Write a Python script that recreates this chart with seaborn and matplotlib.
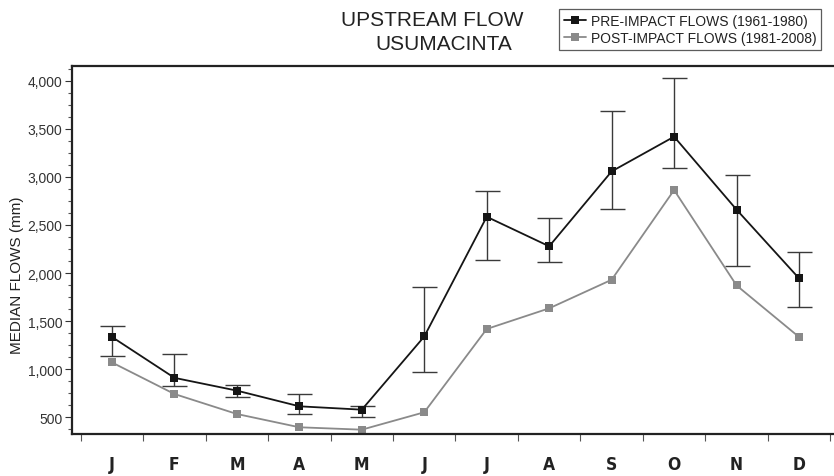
import numpy as np
import pandas as pd
import seaborn as sns
import matplotlib.pyplot as plt
from matplotlib.ticker import MultipleLocator, FuncFormatter, FixedLocator

# Monthly median flows
months = ['J', 'F', 'M', 'A', 'M', 'J', 'J', 'A', 'S', 'O', 'N', 'D']
pre_median = [1335, 910, 777, 614, 579, 1340, 2585, 2278, 3057, 3418, 2659, 1945]
pre_upper = [1446, 1158, 836, 739, 621, 1851, 2856, 2569, 3681, 4027, 3022, 2215]
pre_lower = [1134, 822, 714, 534, 506, 968, 2138, 2118, 2665, 3088, 2070, 1650]
post_median = [1070, 742, 534, 396, 371, 552, 1418, 1633, 1930, 2863, 1871, 1335]

pre_label = 'PRE-IMPACT FLOWS (1961-1980)'
post_label = 'POST-IMPACT FLOWS (1981-2008)'

idx = np.arange(len(months))
df = pd.DataFrame({
    'month': np.concatenate([idx, idx]),
    'flow': pre_median + post_median,
    'period': [pre_label] * 12 + [post_label] * 12,
})

sns.set_style('white')
plt.rcParams['font.family'] = ['Liberation Sans', 'DejaVu Sans']

fig = plt.figure(figsize=(8.34, 4.77), dpi=100)
ax = fig.add_axes([72 / 834, 1 - 435 / 477, 1 - 72 / 834, (435 - 67) / 477])

palette = {pre_label: '#151515', post_label: '#8a8a8a'}
sns.lineplot(data=df, x='month', y='flow', hue='period', palette=palette,
             marker='s', markersize=5.5, markeredgewidth=0, linewidth=1.3,
             ax=ax, legend=True)

# asymmetric error bars for pre-impact medians
err = [np.array(pre_median) - np.array(pre_lower), np.array(pre_upper) - np.array(pre_median)]
ax.errorbar(idx, pre_median, yerr=err, fmt='none', ecolor='#3a3a3a',
            elinewidth=1.0, capsize=9, capthick=1.0, zorder=1)

ax.set_xlim(-0.64, 11.56)
ax.set_ylim(326, 4153)

ax.yaxis.set_major_locator(MultipleLocator(500))
ax.yaxis.set_minor_locator(MultipleLocator(125))
ax.yaxis.set_major_formatter(FuncFormatter(lambda v, p: f'{int(v):,}'))
ax.set_yticks(range(500, 4001, 500))

ax.set_xticks(idx)
ax.set_xticklabels(months)
ax.xaxis.set_minor_locator(FixedLocator(np.arange(-0.5, 12, 1.0)))

ax.tick_params(axis='y', which='major', direction='out', length=5, width=0.8,
               color='#333333', labelsize=10, labelcolor='#333333', pad=2, left=True)
ax.tick_params(axis='y', which='minor', direction='out', length=3, width=0.8,
               color='#555555', left=True)
ax.tick_params(axis='x', which='major', length=0, pad=15)
ax.tick_params(axis='x', which='minor', direction='out', length=5, width=0.8,
               color='#555555', bottom=True)
for lab in ax.get_xticklabels():
    lab.set_family('DejaVu Sans')
    lab.set_fontstretch('condensed')
    lab.set_fontweight('bold')
    lab.set_fontsize(12.5)
    lab.set_color('#222222')

for side in ['left', 'bottom', 'top']:
    ax.spines[side].set_color('#222222')
    ax.spines[side].set_linewidth(1.6)
ax.spines['right'].set_visible(False)

ax.set_xlabel('')
ax.set_ylabel('')
fig.text(17 / 834, 1 - 275 / 477, 'MEDIAN FLOWS (mm)', rotation=90,
         ha='center', va='center', fontsize=11, color='#222222')

fig.text(432 / 834, 1 - 21 / 477, 'UPSTREAM FLOW', ha='center',
         va='center', fontsize=15, color='#222222')
fig.text(444 / 834, 1 - 45 / 477, 'USUMACINTA', ha='center',
         va='center', fontsize=15, color='#222222')

handles, labels = ax.get_legend_handles_labels()
ax.get_legend().remove()
leg = fig.legend(handles, labels, loc='upper right',
                 bbox_to_anchor=(821 / 834, 1 - 10 / 477), fontsize=10,
                 frameon=True, fancybox=False, edgecolor='#333333',
                 handlelength=1.6, handletextpad=0.3, borderpad=0.35,
                 labelspacing=0.25, borderaxespad=0)
leg.get_frame().set_linewidth(0.9)
for t in leg.get_texts():
    t.set_color('#222222')

fig.savefig('out.png', dpi=100)
